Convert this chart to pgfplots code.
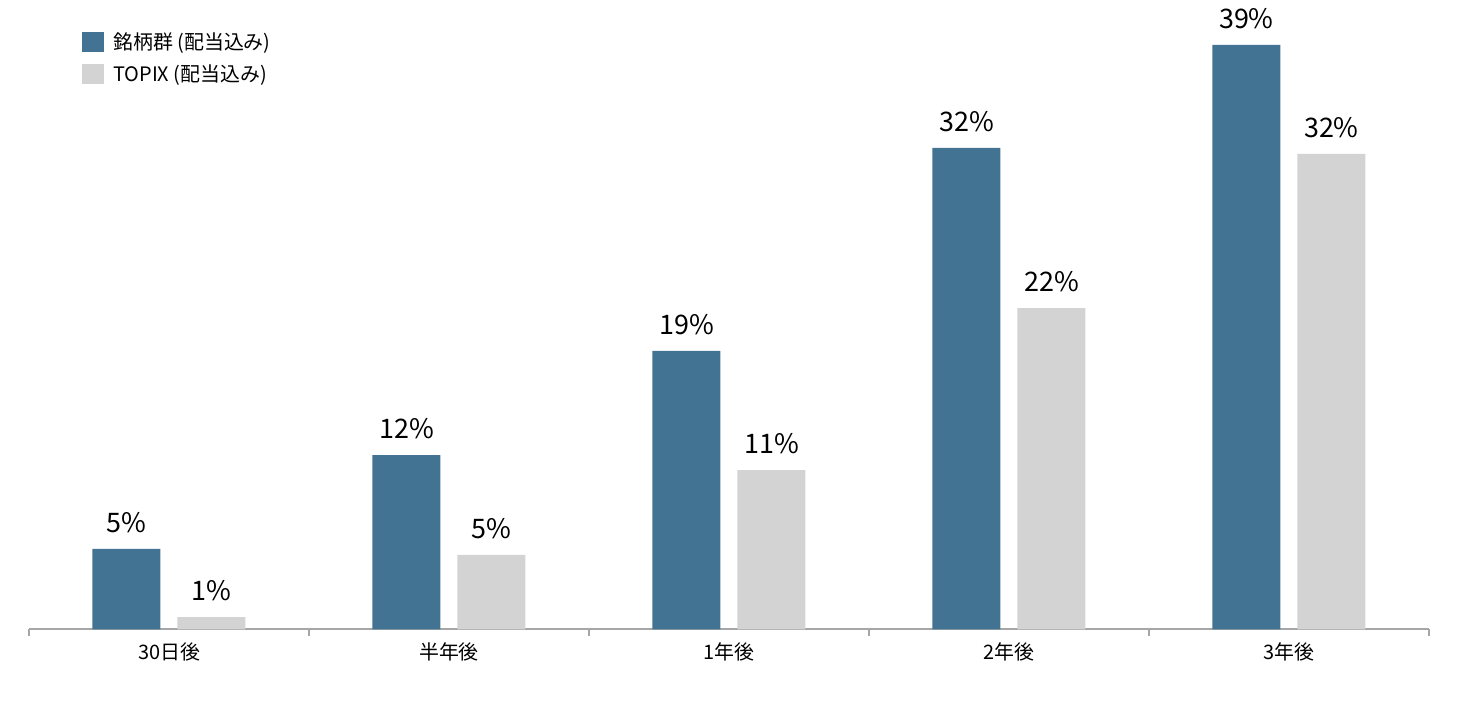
\documentclass[border=0pt]{standalone}
\usepackage{fontspec}
\setmainfont{Noto Sans CJK JP}
\usepackage{pgfplots}
\usepackage{pgfplotstable}
\pgfplotsset{compat=1.18}
\definecolor{barblue}{HTML}{437393}
\definecolor{bargray}{HTML}{D3D3D3}
\definecolor{axisgray}{HTML}{A6A6A6}
\pgfplotstableread{
x y label
0 5.37 5
1 11.63 12
2 18.57 19
3 32.1 32
4 38.97 39
}\blueTable
\pgfplotstableread{
x y label
0 0.83 1
1 4.97 5
2 10.63 11
3 21.43 22
4 31.7 32
}\grayTable
\begin{document}
\begin{tikzpicture}
\path[use as bounding box] (0,0) rectangle (1458bp,704bp);
\begin{axis}[
  at={(29bp,74.5bp)}, anchor=south west,
  scale only axis, width=1400bp, height=600bp,
  xmin=-0.5, xmax=4.5, ymin=0, ymax=40,
  axis y line=none, axis x line*=bottom,
  axis line style={draw=axisgray, line width=2bp, -},
  xtick={0,1,2,3,4},
  xticklabels={30日後,半年後,1年後,2年後,3年後},
  major tick length=0pt,
  minor xtick={-0.5,0.5,1.5,2.5,3.5,4.5},
  minor tick length=7bp,
  tick align=outside,
  minor tick style={draw=axisgray, line width=1.5bp},
  major tick style={draw=none},
  xticklabel style={font=\fontsize{20}{24}\selectfont, inner sep=0pt, yshift=-13bp},
  ybar, bar width=68bp,
  clip=false,
  point meta=explicit symbolic,
  nodes near coords={\pgfplotspointmeta\%},
  nodes near coords style={font=\fontsize{27}{32}\selectfont, inner sep=0pt, anchor=south, yshift=16bp, text=black},
  legend style={at={(0.0379,0.9958)}, anchor=north west, draw=none, fill=none, inner sep=0pt,
    font=\fontsize{20}{24}\selectfont, /tikz/row sep=12bp, /tikz/column sep=9bp, nodes={inner sep=0pt}},
  legend cell align=left,
  legend image code/.code={\fill[#1] (0bp,-10bp) rectangle (22bp,10bp);},
]
\addplot[fill=barblue, draw=none, bar shift=-42.5bp] table[x=x, y=y, meta=label]{\blueTable};
\addlegendentry{銘柄群 (配当込み)}
\addplot[fill=bargray, draw=none, bar shift=42.5bp] table[x=x, y=y, meta=label]{\grayTable};
\addlegendentry{TOPIX (配当込み)}
\end{axis}
\end{tikzpicture}
\end{document}
